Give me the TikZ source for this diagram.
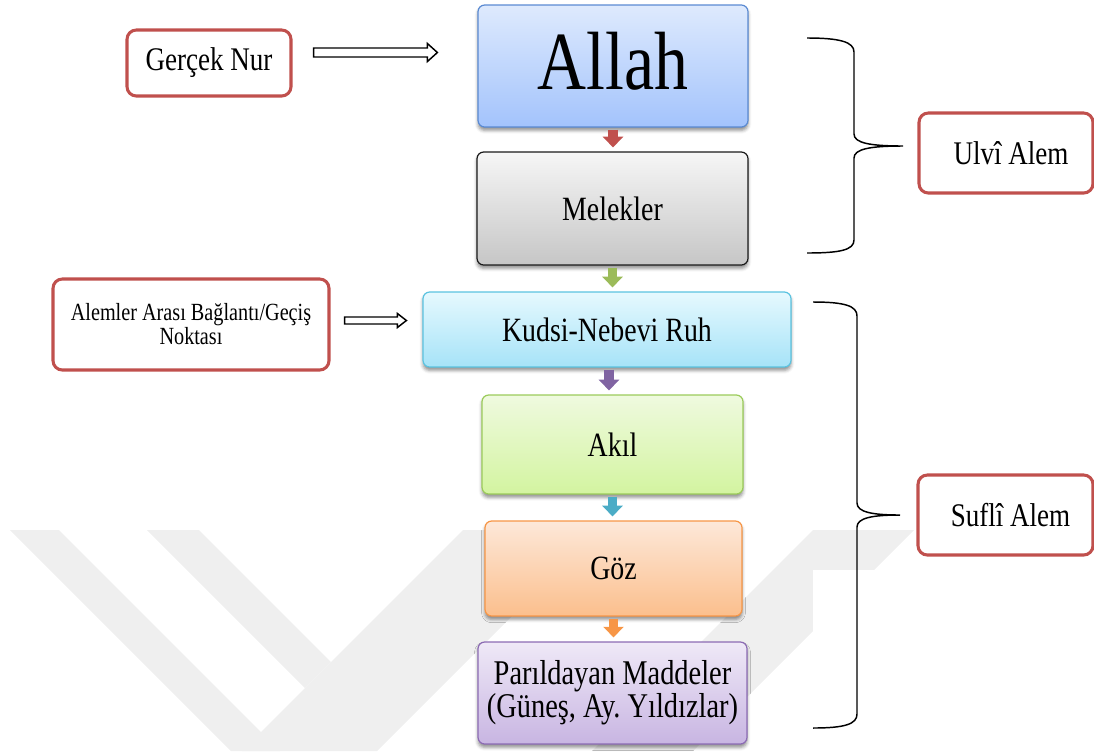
\documentclass[tikz,border=0pt]{standalone}
\usepackage{fontspec}
\setmainfont{Liberation Serif}[FakeStretch=0.82]
\usetikzlibrary{shadows.blur,calc,arrows.meta}
\frenchspacing
\definecolor{redb}{HTML}{C0504D}
\definecolor{wm}{HTML}{EFEFEF}
\definecolor{aTop}{HTML}{DEEAFD}\definecolor{aBot}{HTML}{A3C3FC}\definecolor{aLine}{HTML}{5A8AD2}
\definecolor{mTop}{HTML}{F6F6F6}\definecolor{mBot}{HTML}{C6C6C6}\definecolor{mLine}{HTML}{1A1A1A}
\definecolor{kTop}{HTML}{E6F9FE}\definecolor{kBot}{HTML}{A6E3F8}\definecolor{kLine}{HTML}{5BC3E0}
\definecolor{gTop}{HTML}{EFFADF}\definecolor{gBot}{HTML}{D3F4A0}\definecolor{gLine}{HTML}{9BCB5A}
\definecolor{oTop}{HTML}{FDE8D9}\definecolor{oBot}{HTML}{FBBF8D}\definecolor{oLine}{HTML}{F79646}
\definecolor{pTop}{HTML}{EFE9F7}\definecolor{pBot}{HTML}{C8B5E2}\definecolor{pLine}{HTML}{8C6BB4}
\definecolor{arR}{HTML}{C0504D}\definecolor{arG}{HTML}{9BBB59}\definecolor{arP}{HTML}{8064A2}
\definecolor{arT}{HTML}{4BACC6}\definecolor{arO}{HTML}{F79646}
\newcommand\myhollow[5]{% start, tip, shaft half, head half, head length
  \draw[hollow] ($(#1)+(0,-#3)$) -- ($(#2)+(-#5,-#3)$) -- ($(#2)+(-#5,-#4)$) -- (#2)
    -- ($(#2)+(-#5,#4)$) -- ($(#2)+(-#5,#3)$) -- ($(#1)+(0,#3)$) -- cycle;}
\begin{document}
\begin{tikzpicture}[x=0.75pt,y=-0.75pt,
  mbox/.style={draw, rounded corners=5pt, line width=0.9pt, inner sep=0pt, align=center,
    font=\fontsize{25.5pt}{21.75pt}\selectfont,
    blur shadow={shadow xshift=0pt,shadow yshift=-2.5pt,shadow blur radius=2.5pt,shadow opacity=45}},
  rbox/.style={draw=redb, line width=2.3pt, rounded corners=7pt, fill=white, inner sep=0pt,
    align=center, font=\fontsize{24.75pt}{26pt}\selectfont},
  blk/.style={line width=7pt, -{Triangle[width=15pt,length=8pt]}, shorten <=1.5pt, shorten >=3pt},
  hollow/.style={draw=black, line width=1.1pt, fill=white, line join=miter},
  brace/.style={line width=1.1pt, black}
]
\useasboundingbox (0,0) rectangle (1094,751);
% faint watermark
\fill[wm] (10,530) -- (59,530) -- (280,751) -- (231,751) -- cycle;
\fill[wm] (147,530) -- (199,530) -- (331,662) -- (305,688) -- cycle;
\fill[wm] (463,530) -- (598,530) -- (377,751) -- (242,751) -- cycle;
\fill[wm] (813,530) -- (914,530) -- (693,751) -- (592,751) -- cycle;
\fill[white] (813,570) rectangle (1094,751);

% main column
\node[mbox, draw=aLine, top color=aTop, bottom color=aBot, minimum width=202.5pt, minimum height=91.5pt,
  font=\fontsize{62pt}{62pt}\selectfont] (allah) at (613,66) {\raisebox{8pt}{Allah}};
\node[mbox, draw=mLine, top color=mTop, bottom color=mBot, minimum width=203.25pt, minimum height=84.75pt] (melek) at (612.5,208.5) {Melekler};
\node[mbox, draw=kLine, top color=kTop, bottom color=kBot, minimum width=276pt, minimum height=56.25pt] (kudsi) at (607,329.5) {Kudsi-Nebevi Ruh};
\node[mbox, draw=gLine, top color=gTop, bottom color=gBot, minimum width=195.75pt, minimum height=74.25pt] (akil) at (612.5,444.5) {Akıl};
\node[mbox, draw=oLine, top color=oTop, bottom color=oBot, minimum width=192.75pt, minimum height=71.25pt] (goz) at (613.5,568.5) {Göz};
\node[mbox, draw=pLine, top color=pTop, bottom color=pBot, minimum width=201.75pt, minimum height=76.5pt,
  font=\fontsize{26pt}{22.5pt}\selectfont] (parl) at (612.5,693) {Parıldayan Maddeler\\(Güneş, Ay. Yıldızlar)};

% small block arrows
\draw[blk, arR] (allah.south) -- (allah.south |- melek.north);
\draw[blk, arG] (melek.south) -- (melek.south |- kudsi.north);
\draw[blk, arP] ($(kudsi.south)+(2,0)$) -- ($(kudsi.south |- akil.north)+(2,0)$);
\draw[blk, arT] (akil.south) -- (akil.south |- goz.north);
\draw[blk, arO] (goz.south) -- (goz.south |- parl.north);

% side boxes
\node[rbox, minimum width=123pt, minimum height=49.5pt] (gn) at (209,63) {Gerçek Nur};
\node[rbox, minimum width=207pt, minimum height=68.25pt, font=\fontsize{18.5pt}{18pt}\selectfont] (al) at (191,324.5) {Alemler Arası Bağlantı/Geçiş\\Noktası};
\node[rbox, minimum width=130.5pt, minimum height=60pt] (ulvi) at (1006,153) {\hspace*{7.5pt}Ulvî Alem};
\node[rbox, minimum width=131.25pt, minimum height=60pt] (sufli) at (1005.5,515) {\hspace*{7.5pt}Suflî Alem};

% hollow arrows
\coordinate (gnS) at ($(gn.east)+(21,-10.5)$);
\coordinate (gnT) at ($(allah.west)+(-40,-13.5)$);
\myhollow{gnS}{gnT}{4.5}{9}{10}
\coordinate (alS) at ($(al.east)+(14,-4)$);
\coordinate (alT) at ($(kudsi.west)+(-16,-9)$);
\myhollow{alS}{alT}{3.5}{7}{9}

% braces
\draw[brace] (807,38) .. controls (840,38) and (854,42) .. (854,52) -- (854,134)
  .. controls (854,143) and (870,146) .. (903,146)
  .. controls (870,146) and (854,149) .. (854,158) -- (854,240)
  .. controls (854,250) and (840,253) .. (807,253);
\draw[brace] (813,302) .. controls (845,302) and (857,306) .. (857,316) -- (857,503)
  .. controls (857,512) and (872,515) .. (900,515)
  .. controls (872,515) and (857,518) .. (857,527) -- (857,714)
  .. controls (857,724) and (845,728) .. (813,728);
\end{tikzpicture}
\end{document}
